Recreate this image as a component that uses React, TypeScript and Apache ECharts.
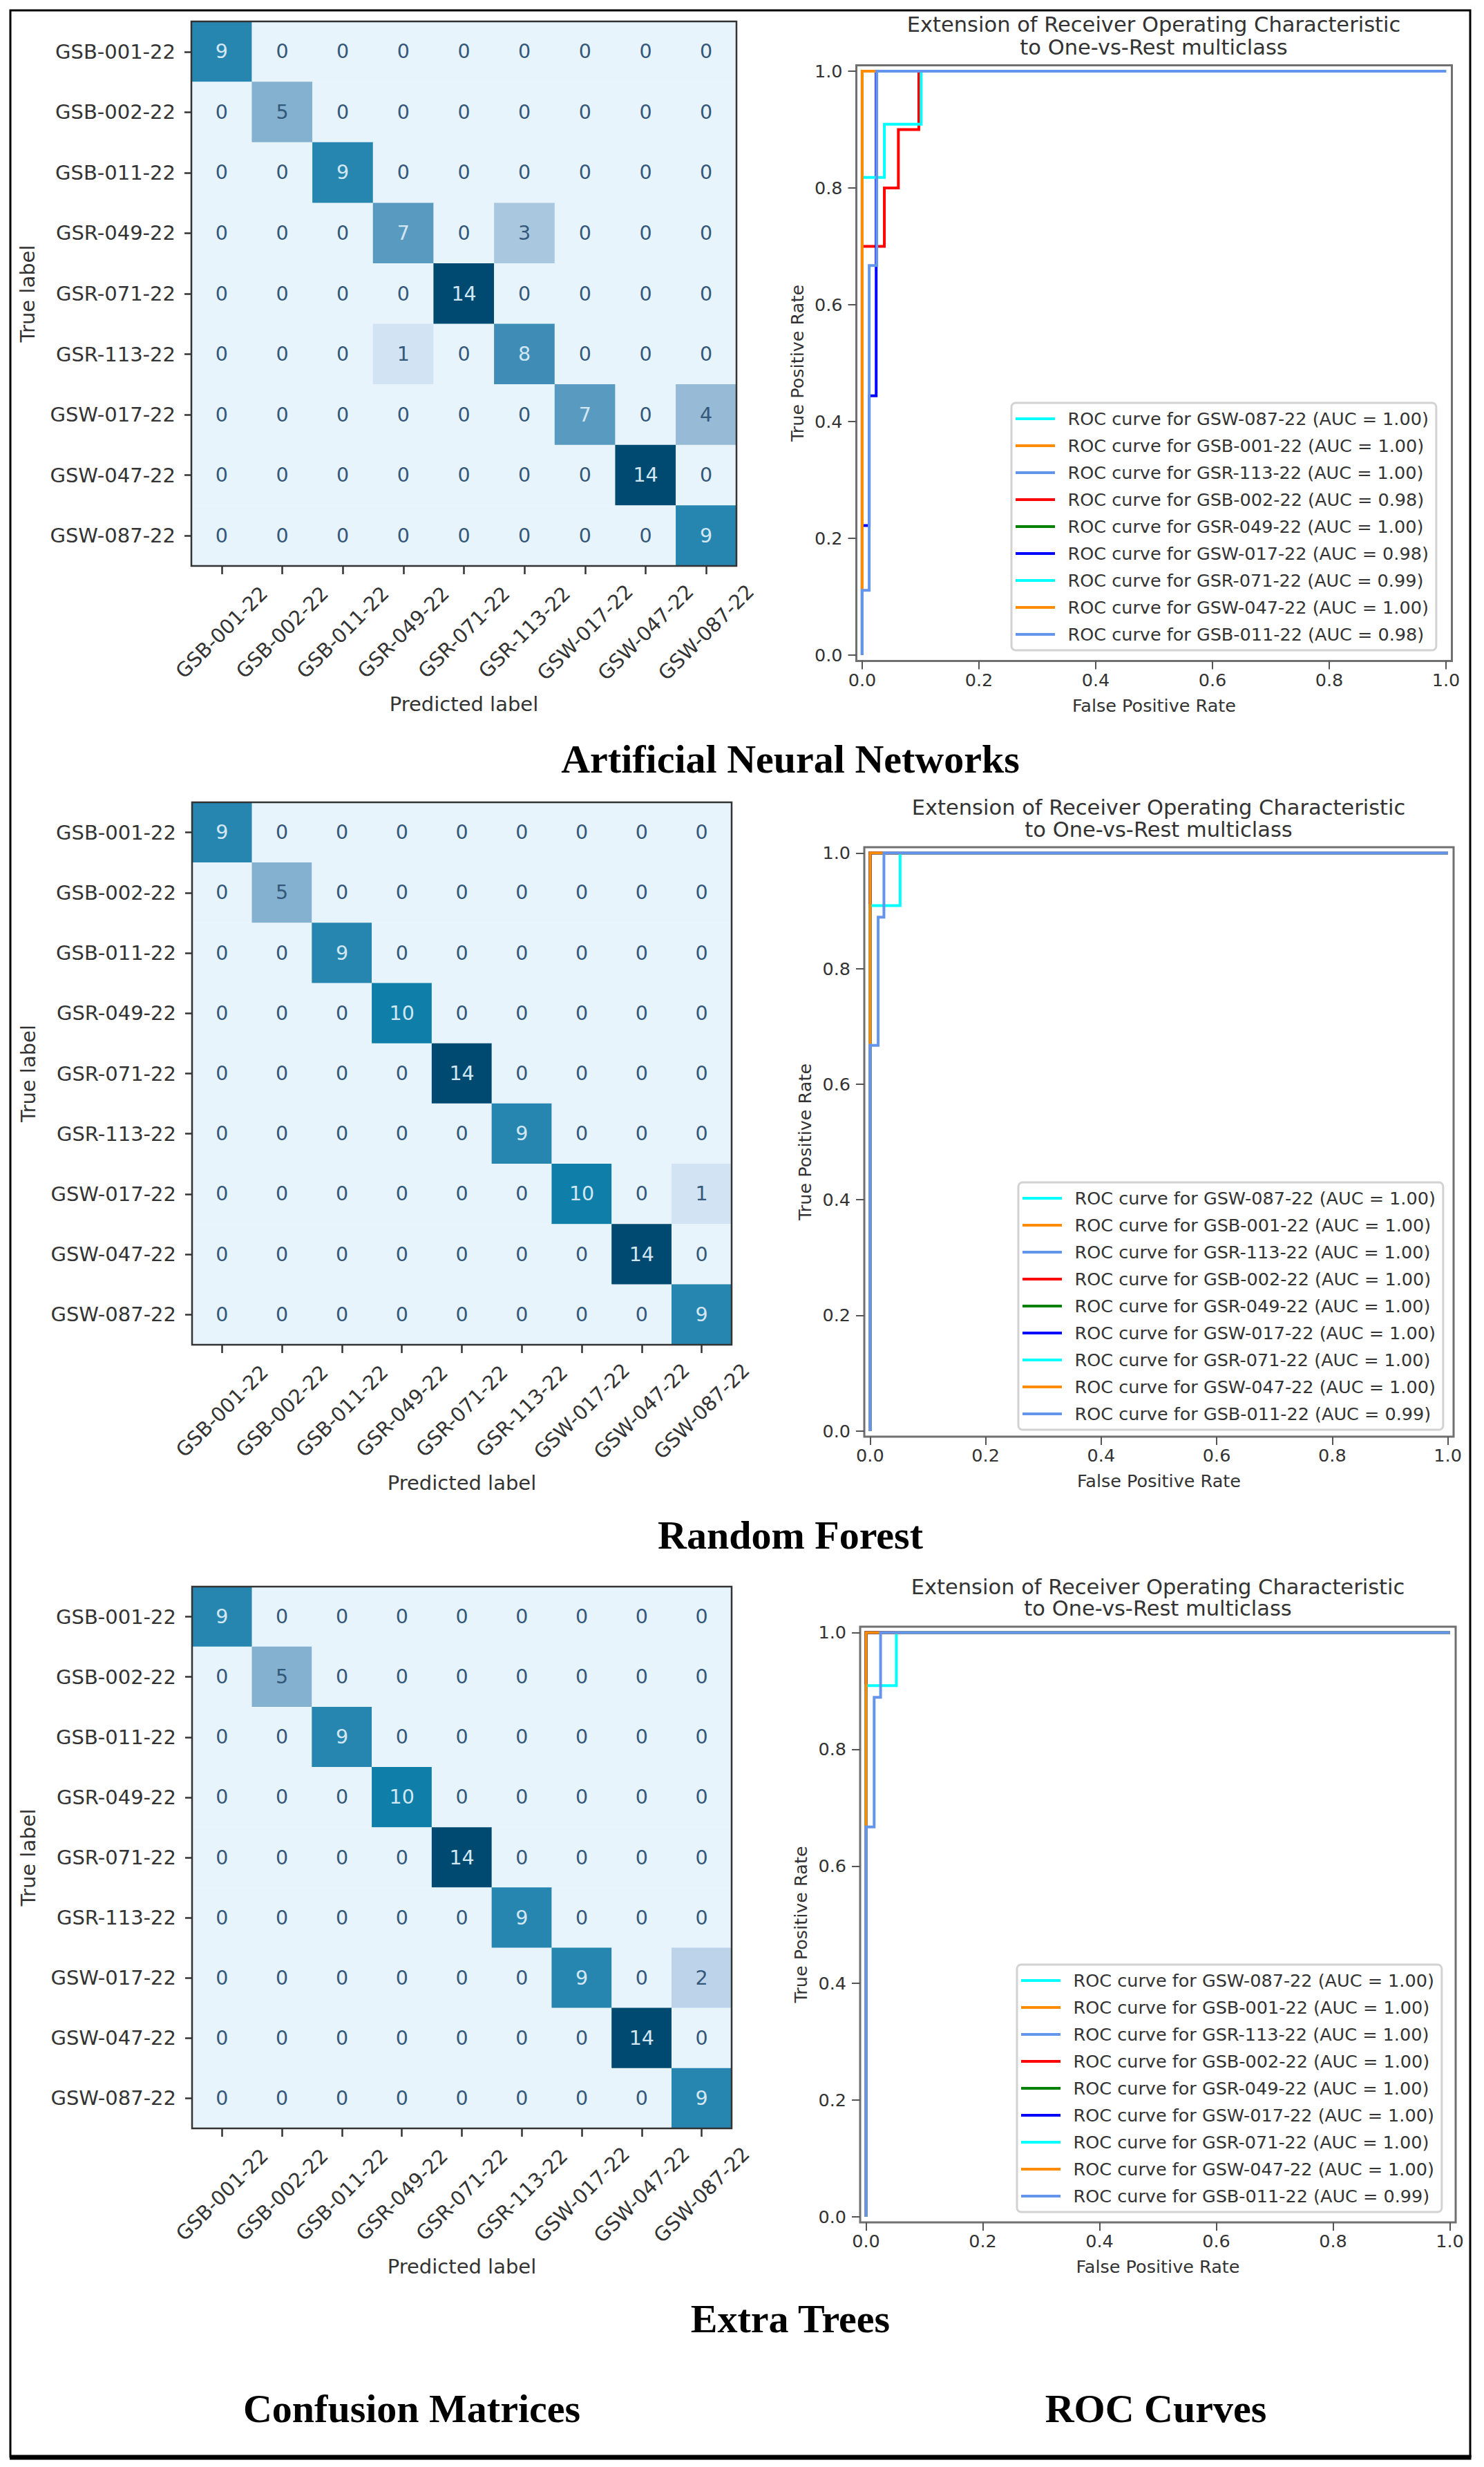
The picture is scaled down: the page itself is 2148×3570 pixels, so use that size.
import React, { useEffect, useRef } from 'react';
import * as echarts from 'echarts';

const PAGE_W = 2148;
const PAGE_H = 3570;

// ---------------- data ----------------
const CLASSES = [
  'GSB-001-22', 'GSB-002-22', 'GSB-011-22', 'GSR-049-22', 'GSR-071-22',
  'GSR-113-22', 'GSW-017-22', 'GSW-047-22', 'GSW-087-22',
];

const CM_ANN = [
  [9, 0, 0, 0, 0, 0, 0, 0, 0],
  [0, 5, 0, 0, 0, 0, 0, 0, 0],
  [0, 0, 9, 0, 0, 0, 0, 0, 0],
  [0, 0, 0, 7, 0, 3, 0, 0, 0],
  [0, 0, 0, 0, 14, 0, 0, 0, 0],
  [0, 0, 0, 1, 0, 8, 0, 0, 0],
  [0, 0, 0, 0, 0, 0, 7, 0, 4],
  [0, 0, 0, 0, 0, 0, 0, 14, 0],
  [0, 0, 0, 0, 0, 0, 0, 0, 9],
];

const CM_RF = [
  [9, 0, 0, 0, 0, 0, 0, 0, 0],
  [0, 5, 0, 0, 0, 0, 0, 0, 0],
  [0, 0, 9, 0, 0, 0, 0, 0, 0],
  [0, 0, 0, 10, 0, 0, 0, 0, 0],
  [0, 0, 0, 0, 14, 0, 0, 0, 0],
  [0, 0, 0, 0, 0, 9, 0, 0, 0],
  [0, 0, 0, 0, 0, 0, 10, 0, 1],
  [0, 0, 0, 0, 0, 0, 0, 14, 0],
  [0, 0, 0, 0, 0, 0, 0, 0, 9],
];

const CM_ET = [
  [9, 0, 0, 0, 0, 0, 0, 0, 0],
  [0, 5, 0, 0, 0, 0, 0, 0, 0],
  [0, 0, 9, 0, 0, 0, 0, 0, 0],
  [0, 0, 0, 10, 0, 0, 0, 0, 0],
  [0, 0, 0, 0, 14, 0, 0, 0, 0],
  [0, 0, 0, 0, 0, 9, 0, 0, 0],
  [0, 0, 0, 0, 0, 0, 9, 0, 2],
  [0, 0, 0, 0, 0, 0, 0, 14, 0],
  [0, 0, 0, 0, 0, 0, 0, 0, 9],
];

const ROC_CLASSES = [
  'GSW-087-22', 'GSB-001-22', 'GSR-113-22', 'GSB-002-22', 'GSR-049-22',
  'GSW-017-22', 'GSR-071-22', 'GSW-047-22', 'GSB-011-22',
];

const AUC_ANN = [1.0, 1.0, 1.0, 0.98, 1.0, 0.98, 0.99, 1.0, 0.98];
const AUC_RF = [1.0, 1.0, 1.0, 1.0, 1.0, 1.0, 1.0, 1.0, 0.99];
const AUC_ET = [1.0, 1.0, 1.0, 1.0, 1.0, 1.0, 1.0, 1.0, 0.99];

const FPR_ANN = [
  [0, 0, 1],
  [0, 0, 1],
  [0, 0, 1],
  [0, 0, 0.038, 0.038, 0.062, 0.062, 0.097, 0.097, 1],
  [0, 0, 1],
  [0, 0, 0.012, 0.012, 0.024, 0.024, 1],
  [0, 0, 0.038, 0.038, 0.101, 0.101, 1],
  [0, 0, 1],
  [0, 0, 0.012, 0.012, 0.025, 0.025, 1],
];
const TPR_ANN = [
  [0, 1, 1],
  [0, 1, 1],
  [0, 1, 1],
  [0, 0.7, 0.7, 0.8, 0.8, 0.9, 0.9, 1, 1],
  [0, 1, 1],
  [0, 0.222, 0.222, 0.444, 0.444, 1, 1],
  [0, 0.818, 0.818, 0.909, 0.909, 1, 1],
  [0, 1, 1],
  [0, 0.111, 0.111, 0.667, 0.667, 1, 1],
];

const FPR_RF = [
  [0, 0, 1],
  [0, 0, 1],
  [0, 0, 1],
  [0, 0, 1],
  [0, 0, 1],
  [0, 0, 1],
  [0, 0, 0.052, 0.052, 1],
  [0, 0, 1],
  [0, 0, 0.014, 0.014, 0.024, 0.024, 1],
];
const TPR_RF = [
  [0, 1, 1],
  [0, 1, 1],
  [0, 1, 1],
  [0, 1, 1],
  [0, 1, 1],
  [0, 1, 1],
  [0, 0.909, 0.909, 1, 1],
  [0, 1, 1],
  [0, 0.667, 0.667, 0.889, 0.889, 1, 1],
];

const FPR_ET = [
  [0, 0, 1],
  [0, 0, 1],
  [0, 0, 1],
  [0, 0, 1],
  [0, 0, 1],
  [0, 0, 1],
  [0, 0, 0.052, 0.052, 1],
  [0, 0, 1],
  [0, 0, 0.014, 0.014, 0.025, 0.025, 1],
];
const TPR_ET = [
  [0, 1, 1],
  [0, 1, 1],
  [0, 1, 1],
  [0, 1, 1],
  [0, 1, 1],
  [0, 1, 1],
  [0, 0.909, 0.909, 1, 1],
  [0, 1, 1],
  [0, 0.667, 0.667, 0.889, 0.889, 1, 1],
];

const ROC_TICKS = [0, 0.2, 0.4, 0.6, 0.8, 1.0];

const MODEL_NAMES = ['Artificial Neural Networks', 'Random Forest', 'Extra Trees'];
const COLUMN_CAPTIONS = ['Confusion Matrices', 'ROC Curves'];
const ROC_TITLE_LINES = ['Extension of Receiver Operating Characteristic', 'to One-vs-Rest multiclass'];

// ---------------- style ----------------
const FONT = "'DejaVu Sans', Verdana, sans-serif";
const SERIF = "'Liberation Serif', 'Times New Roman', serif";
const TEXT = '#333333';
const ROC_COLORS = ['#00ffff', '#ff8c00', '#6495ed', '#ff0000', '#008000', '#0000ff', '#00ffff', '#ff8c00', '#6495ed'];
const CM_COLORS = ['#e8f4fc', '#bcd3ea', '#97bad6', '#73a8c9', '#3f8db6', '#0f7fa9', '#05638d', '#004a71'];
const CM_TEXT_DARK = '#34587a';
const CM_TEXT_LIGHT = '#d3e7f3';

// ---------------- layout ----------------
const CM_GRIDS = [
  { left: 277, top: 31, width: 789, height: 788 },
  { left: 278, top: 1161, width: 781, height: 785 },
  { left: 278, top: 2296, width: 781, height: 784 },
];
const ROC_GRIDS = [
  { left: 1239.5, top: 94.5, width: 862, height: 862 },
  { left: 1251, top: 1226, width: 853, height: 853 },
  { left: 1245, top: 2354, width: 862, height: 862 },
];
const LEGEND_POS = [
  { left: 1464, top: 583 },
  { left: 1474, top: 1711 },
  { left: 1472, top: 2843 },
];
const ROC_TITLE_POS = [
  { x: 1670, y1: 35, y2: 68 },
  { x: 1677, y1: 1168, y2: 1200 },
  { x: 1676, y1: 2296, y2: 2327 },
];
const MODEL_NAME_POS = [
  { x: 1144, y: 1098 },
  { x: 1144, y: 2221 },
  { x: 1144, y: 3355 },
];
const CAPTION_POS = [
  { x: 596, y: 3485 },
  { x: 1673, y: 3485 },
];

function buildOption() {
  const cms = [CM_ANN, CM_RF, CM_ET];
  const fprs = [FPR_ANN, FPR_RF, FPR_ET];
  const tprs = [TPR_ANN, TPR_RF, TPR_ET];
  const aucs = [AUC_ANN, AUC_RF, AUC_ET];

  const grid: any[] = [];
  const xAxis: any[] = [];
  const yAxis: any[] = [];
  const series: any[] = [];
  const visualMap: any[] = [];
  const legend: any[] = [];
  const elements: any[] = [];

  const cmTick = { color: TEXT, width: 2.5 };
  const cmText = { fontSize: 29, fontFamily: FONT, color: TEXT };

  cms.forEach((M, k) => {
    grid.push({
      ...CM_GRIDS[k],
      show: true,
      borderColor: '#333333',
      borderWidth: 2.5,
      backgroundColor: 'transparent',
      z: 5,
      containLabel: false,
      outerBoundsMode: 'none',
    });
    xAxis.push({
      type: 'category',
      gridIndex: k,
      data: CLASSES,
      position: 'bottom',
      axisLine: { show: false },
      axisTick: { show: true, alignWithLabel: true, interval: 0, length: 12, lineStyle: cmTick },
      axisLabel: {
        interval: 0, rotate: 45, align: 'center', verticalAlign: 'middle', margin: 96,
        ...cmText,
      },
      splitLine: { show: false },
      splitArea: { show: false },
      name: 'Predicted label',
      nameLocation: 'middle',
      nameGap: 185,
      nameTextStyle: cmText,
    });
    yAxis.push({
      type: 'category',
      gridIndex: k,
      data: CLASSES,
      inverse: true,
      position: 'left',
      axisLine: { show: false },
      axisTick: { show: true, alignWithLabel: true, interval: 0, length: 10, lineStyle: cmTick },
      axisLabel: { interval: 0, margin: 23, ...cmText },
      splitLine: { show: false },
      splitArea: { show: false },
      name: 'True label',
      nameLocation: 'middle',
      nameRotate: 90,
      nameGap: 223,
      nameTextStyle: cmText,
    });
    const flat = M.flat();
    const vmin = Math.min(...flat);
    const vmax = Math.max(...flat);
    const thresh = (vmin + vmax) / 2;
    const data: any[] = [];
    M.forEach((row, r) =>
      row.forEach((v, c) => {
        data.push({ value: [c, r, v], label: { color: v < thresh ? CM_TEXT_DARK : CM_TEXT_LIGHT } });
      })
    );
    series.push({
      type: 'heatmap',
      xAxisIndex: k,
      yAxisIndex: k,
      data,
      silent: true,
      itemStyle: { borderWidth: 0 },
      emphasis: { disabled: true },
      label: {
        show: true,
        fontSize: 28.5,
        fontFamily: FONT,
        formatter: (p: any) => String(p.value[2]),
      },
    });
    visualMap.push({
      type: 'continuous',
      show: false,
      seriesIndex: k,
      dimension: 2,
      min: vmin,
      max: vmax,
      inRange: { color: CM_COLORS },
    });
  });

  const rocText = { fontSize: 25.5, fontFamily: FONT, color: TEXT };
  const rocTick = { color: '#555555', width: 2 };

  fprs.forEach((F, k) => {
    const gi = 3 + k;
    grid.push({
      ...ROC_GRIDS[k],
      show: true,
      borderColor: '#707070',
      borderWidth: 3,
      backgroundColor: 'transparent',
      containLabel: false,
      outerBoundsMode: 'none',
    });
    xAxis.push({
      type: 'value',
      gridIndex: gi,
      min: -0.01,
      max: 1.01,
      axisLine: { show: false, onZero: false },
      axisTick: { show: true, length: 12, customValues: ROC_TICKS, lineStyle: rocTick },
      axisLabel: { customValues: ROC_TICKS, formatter: (v: number) => v.toFixed(1), margin: 14, ...rocText },
      splitLine: { show: false },
      name: 'False Positive Rate',
      nameLocation: 'middle',
      nameGap: 51,
      nameTextStyle: rocText,
    });
    yAxis.push({
      type: 'value',
      gridIndex: gi,
      min: -0.01,
      max: 1.01,
      axisLine: { show: false, onZero: false },
      axisTick: { show: true, length: 12, customValues: ROC_TICKS, lineStyle: rocTick },
      axisLabel: { customValues: ROC_TICKS, formatter: (v: number) => v.toFixed(1), margin: 20, ...rocText },
      splitLine: { show: false },
      name: 'True Positive Rate',
      nameLocation: 'middle',
      nameRotate: 90,
      nameGap: 73,
      nameTextStyle: rocText,
    });
    const names = ROC_CLASSES.map((c, i) => `ROC curve for ${c} (AUC = ${aucs[k][i].toFixed(2)})`);
    F.forEach((fpr, i) => {
      series.push({
        type: 'line',
        name: names[i],
        xAxisIndex: gi,
        yAxisIndex: gi,
        data: fpr.map((x, j) => [x, tprs[k][i][j]]),
        symbol: 'none',
        showSymbol: false,
        silent: true,
        lineStyle: { color: ROC_COLORS[i], width: 4, join: 'miter', cap: 'butt' },
        itemStyle: { color: ROC_COLORS[i] },
      });
    });
    legend.push({
      data: names,
      ...LEGEND_POS[k],
      orient: 'vertical',
      selectedMode: false,
      icon: 'rect',
      itemWidth: 57,
      itemHeight: 4,
      itemGap: 9,
      itemStyle: { borderWidth: 0 },
      padding: [8, 11, 8, 6],
      backgroundColor: '#ffffff',
      borderColor: '#d2d2d2',
      borderWidth: 3,
      borderRadius: 6,
      textStyle: { ...rocText, lineHeight: 30, padding: [0, 0, 0, 13.5] },
    });
    const tp = ROC_TITLE_POS[k];
    [tp.y1, tp.y2].forEach((y, li) => {
      elements.push({
        type: 'text',
        x: tp.x,
        y,
        silent: true,
        style: {
          text: ROC_TITLE_LINES[li],
          fill: TEXT,
          fontSize: 30.5,
          fontFamily: FONT,
          align: 'center',
          verticalAlign: 'middle',
        },
      });
    });
  });

  MODEL_NAMES.forEach((t, i) => {
    elements.push({
      type: 'text',
      x: MODEL_NAME_POS[i].x,
      y: MODEL_NAME_POS[i].y,
      silent: true,
      style: {
        text: t, fill: '#000000', fontSize: 58, fontWeight: 'bold', fontFamily: SERIF,
        align: 'center', verticalAlign: 'middle',
      },
    });
  });
  COLUMN_CAPTIONS.forEach((t, i) => {
    elements.push({
      type: 'text',
      x: CAPTION_POS[i].x,
      y: CAPTION_POS[i].y,
      silent: true,
      style: {
        text: t, fill: '#000000', fontSize: 58, fontWeight: 'bold', fontFamily: SERIF,
        align: 'center', verticalAlign: 'middle',
      },
    });
  });

  elements.push({
    type: 'rect',
    silent: true,
    shape: { x: 15, y: 15, width: 2113, height: 3540 },
    style: { fill: 'none', stroke: '#000000', lineWidth: 3 },
  });
  elements.push({
    type: 'line',
    silent: true,
    shape: { x1: 14, y1: 3556, x2: 2129.5, y2: 3556 },
    style: { stroke: '#000000', lineWidth: 7 },
  });

  return {
    animation: false,
    backgroundColor: '#ffffff',
    textStyle: { fontFamily: FONT },
    grid,
    xAxis,
    yAxis,
    visualMap,
    legend,
    series,
    graphic: { elements },
  };
}

export default function App() {
  const ref = useRef<HTMLDivElement>(null);
  useEffect(() => {
    if (!ref.current) return;
    const chart = echarts.init(ref.current, null, { renderer: 'svg' });
    chart.setOption(buildOption() as any);
    return () => {
      chart.dispose();
    };
  }, []);
  return (
    <div
      ref={ref}
      style={{
        position: 'absolute',
        left: 0,
        top: 0,
        width: PAGE_W,
        height: PAGE_H,
        background: '#ffffff',
      }}
    />
  );
}
